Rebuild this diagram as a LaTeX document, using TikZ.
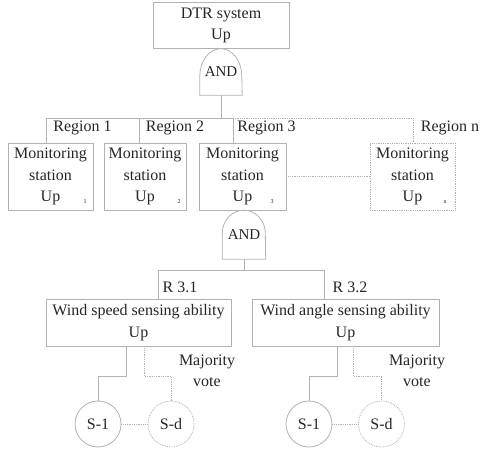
\documentclass[tikz,border=0pt]{standalone}
\usepackage{fontspec}
\setmainfont{Liberation Serif}

\begin{document}
\begin{tikzpicture}[x=1pt,y=1pt,
    line/.style={draw=gray!60, line width=0.8pt},
    dotline/.style={line, densely dotted},
    box/.style={line, rectangle, align=center, inner sep=0pt, text=black!85,
        font=\fontsize{16}{21.5}\selectfont},
    gate/.style={inner sep=0pt, text=black!85, font=\fontsize{15}{18}\selectfont},
    sensor/.style={line, circle, minimum size=46, inner sep=0pt, text=black!85,
        font=\fontsize{16}{19}\selectfont},
    lbl/.style={inner sep=0pt, text=black!85, align=center,
        font=\fontsize{16}{21}\selectfont},
    idx/.style={inner sep=0pt, text=black!85, font=\fontsize{6}{7}\selectfont}]
    \useasboundingbox (0,0) rectangle (480,453);
    % top event and first gate
    \node[box, minimum width=136, minimum height=46] (sys) at (221,427.5) {DTR system\\Up};
    \node[gate, minimum width=42, minimum height=46.5] (and1) at (221,381.25) {AND};
    \draw[line] (and1.south west) -- ++(0,19) arc[start angle=180, end angle=0, x radius=21, y radius=27.5] -- (and1.south east) -- cycle;
    \coordinate (bus1) at (221,335);
    \draw[line] (and1.south) -- (bus1);
    % monitoring stations, one per region
    \foreach \i/\cx/\w/\rx/\lx/\sx in {1/50.5/85/46/82.5/85, 2/145/82/139/175/179, 3/242.5/87/233/266.5/272}{%
        \node[box, minimum width=\w, minimum height=67] (m\i) at (\cx,276.5) {Monitoring\\station\\Up};
        \coordinate (r\i) at (\rx,335);
        \draw[line] (r\i) -- (r\i |- m\i.north);
        \node[lbl, anchor=base] (reg\i) at (\lx,321) {Region \i};
        \node[idx] (k\i) at (\sx,251) {\i};
    }
    \node[box, densely dotted, minimum width=85, minimum height=67] (mn) at (412.5,276.5) {Monitoring\\station\\Up};
    \coordinate (rn) at (413,335);
    \node[lbl, anchor=base] (regn) at (450,321) {Region n};
    \node[idx] (kn) at (445,251) {n};
    \draw[line] (r1) -- (r3);
    \draw[dotline] (r3) -- (rn) -- (rn |- mn.north);
    \draw[dotline] (m3.east) -- (mn.west);
    % second gate below region 3
    \node[gate, minimum width=43, minimum height=49] (and2) at (244,218.5) {AND};
    \draw[line] (and2.south west) -- ++(0,26) arc[start angle=180, end angle=0, x radius=21.5, y radius=23] -- (and2.south east) -- cycle;
    \node[box, minimum width=185, minimum height=47] (ws) at (138.5,130.5) {Wind speed sensing ability\\Up};
    \node[box, minimum width=187, minimum height=47] (wa) at (345.5,130.5) {Wind angle sensing ability\\Up};
    \coordinate (bus2) at (244,183);
    \coordinate (q1) at (158,183);
    \coordinate (q2) at (324,183);
    \draw[line] (and2.south) -- (bus2);
    \draw[line] (q1 |- ws.north) -- (q1) -- (q2) -- (q2 |- wa.north);
    \node[lbl, anchor=base] (r31) at (180,160) {R 3.1};
    \node[lbl, anchor=base] (r32) at (350,160) {R 3.2};
    % sensors with majority vote
    \foreach \grp/\kx/\dx/\ax/\bx/\vx in {ws/126/144/98/171/207, wa/337/353/309/381.5/417}{%
        \node[sensor] (\grp1) at (\ax,29) {S-1};
        \node[sensor, densely dotted] (\grp d) at (\bx,29) {S-d};
        \coordinate (\grp k) at (\kx,77);
        \coordinate (\grp l) at (\dx,77);
        \draw[line] (\grp.south -| \grp k) -- (\grp k) -- (\grp k -| \grp1) -- (\grp1.north);
        \draw[dotline] (\grp.south -| \grp l) -- (\grp l) -- (\grp l -| \grp d) -- (\grp d.north);
        \draw[dotline] (\grp1) -- (\grp d);
        \node[lbl] (\grp v) at (\vx,82.5) {Majority\\vote};
    }
\end{tikzpicture}
\end{document}
